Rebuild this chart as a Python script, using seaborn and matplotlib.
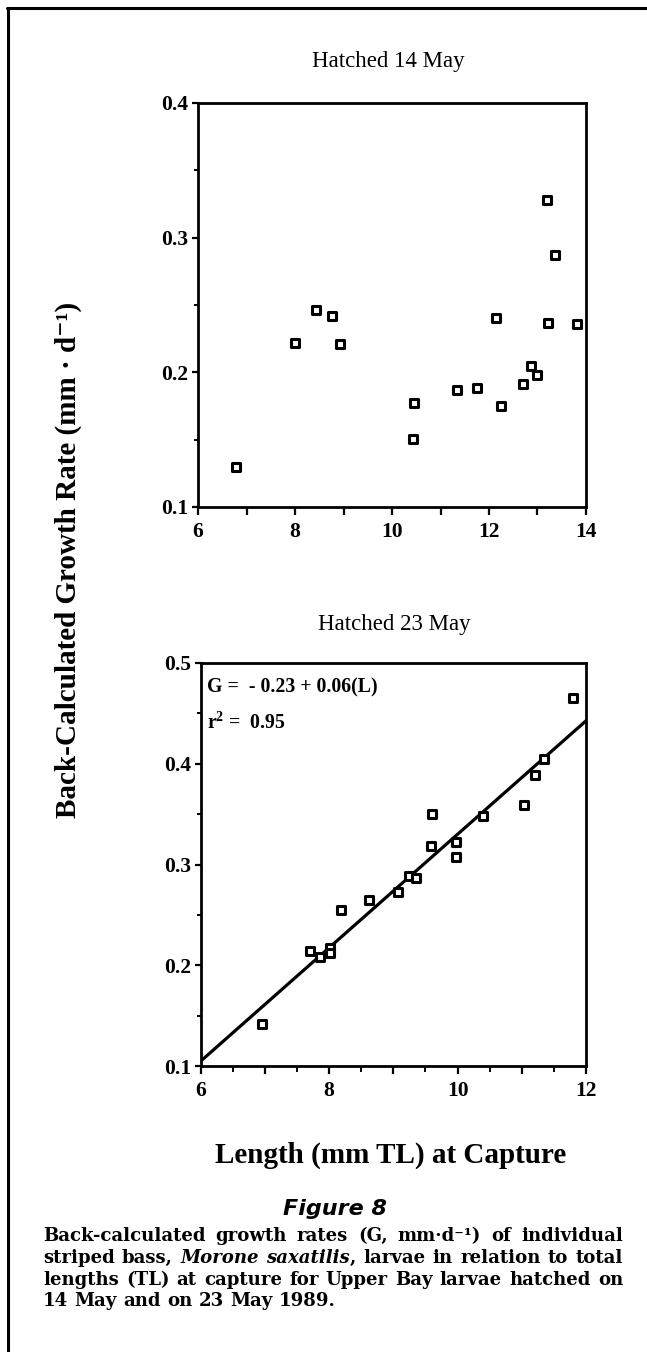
import numpy as np
import pandas as pd
import matplotlib
matplotlib.use("Agg")
import matplotlib.pyplot as plt
import seaborn as sns
from matplotlib.lines import Line2D
from matplotlib.ticker import MultipleLocator, FuncFormatter

# ---------------- data ----------------
may14_length = [6.78, 8.01, 8.44, 8.77, 8.92, 10.45, 10.44, 11.34, 11.75, 12.15,
                12.25, 12.70, 12.87, 13.00, 13.21, 13.37, 13.82, 13.19]
may14_growth = [0.130, 0.222, 0.246, 0.242, 0.221, 0.1775, 0.1505, 0.187, 0.188, 0.240,
                0.175, 0.191, 0.205, 0.198, 0.237, 0.287, 0.236, 0.328]

may23_length = [6.95, 7.70, 7.85, 8.01, 8.01, 8.18, 8.62, 9.08, 9.24, 9.36,
                9.59, 9.60, 9.98, 9.98, 10.40, 11.03, 11.21, 11.35, 11.80]
may23_growth = [0.142, 0.214, 0.208, 0.2175, 0.212, 0.255, 0.265, 0.273, 0.289, 0.287,
                0.318, 0.350, 0.322, 0.307, 0.348, 0.359, 0.3885, 0.405, 0.465]

fit_intercept = -0.233
fit_slope = 0.0563
fit_range = [6, 12]

title_top = "Hatched 14 May"
title_bottom = "Hatched 23 May"
eq_text = "G =  - 0.23 + 0.06(L)"
r2_text = r"r$^{\mathbf{2}}$ =  0.95"
ylabel = "Back-Calculated Growth Rate (mm · d⁻¹)"
xlabel = "Length (mm TL) at Capture"
fig_title = "Figure 8"
caption_lines = [
    [("Back-calculated growth rates (G, mm·d⁻¹) of individual", "normal")],
    [("striped bass,", "normal"), ("Morone saxatilis", "italic"),
     (", larvae in relation to total", "normal")],
    [("lengths (TL) at capture for Upper Bay larvae hatched on", "normal")],
    [("14 May and on 23 May 1989.", "normal")],
]

# ---------------- style ----------------
sns.set_theme(style="ticks")
plt.rcParams["font.family"] = ["Liberation Serif", "DejaVu Serif"]
plt.rcParams["mathtext.fontset"] = "custom"
plt.rcParams["mathtext.rm"] = "Liberation Serif"
plt.rcParams["mathtext.bf"] = "Liberation Serif:bold"
plt.rcParams["mathtext.it"] = "Liberation Serif:italic"
for k in ["text.color", "axes.labelcolor", "xtick.color", "ytick.color", "axes.edgecolor"]:
    plt.rcParams[k] = "black"
plt.rcParams["axes.linewidth"] = 2.0

W, H = 647, 1352
fig = plt.figure(figsize=(W / 100, H / 100), dpi=100)
fig.patch.set_facecolor("white")

def fx(px):
    return px / W

def fy(py):
    return 1 - py / H

ax1 = fig.add_axes([fx(198), fy(507), fx(586) - fx(198), fy(103) - fy(507)])
ax2 = fig.add_axes([fx(200.7), fy(1066), fx(586) - fx(200.7), fy(663) - fy(1066)])

df14 = pd.DataFrame({"L": may14_length, "G": may14_growth})
df23 = pd.DataFrame({"L": may23_length, "G": may23_growth})

mk = dict(marker="s", s=30, facecolor="white", edgecolor="black", linewidth=2.2, zorder=3)
sns.scatterplot(data=df14, x="L", y="G", ax=ax1, legend=False, **mk)
sns.scatterplot(data=df23, x="L", y="G", ax=ax2, legend=False, **mk)

fit_x = np.array(fit_range, dtype=float)
fit_df = pd.DataFrame({"L": fit_x, "G": fit_intercept + fit_slope * fit_x})
sns.lineplot(data=fit_df, x="L", y="G", ax=ax2, color="black", linewidth=2.3, zorder=2)

even_fmt = FuncFormatter(lambda v, p: f"{int(round(v))}" if int(round(v)) % 2 == 0 else "")
yfmt = FuncFormatter(lambda v, p: f"{v:.1f}")

for ax, xlim, ylim, xminor in [(ax1, (6, 14), (0.1, 0.4), None), (ax2, (6, 12), (0.1, 0.5), 0.5)]:
    ax.set_xlim(*xlim)
    ax.set_ylim(*ylim)
    ax.xaxis.set_major_locator(MultipleLocator(1))
    ax.xaxis.set_major_formatter(even_fmt)
    if xminor:
        ax.xaxis.set_minor_locator(MultipleLocator(xminor))
    ax.yaxis.set_major_locator(MultipleLocator(0.1))
    ax.yaxis.set_minor_locator(MultipleLocator(0.05))
    ax.yaxis.set_major_formatter(yfmt)
    for s in ax.spines.values():
        s.set_visible(True)
        s.set_linewidth(2.0)
        s.set_color("black")
    ax.tick_params(axis="x", which="major", direction="out", length=6, width=1.6,
                   pad=5, labelsize=15.5, top=False, colors="black")
    ax.tick_params(axis="x", which="minor", direction="out", length=4, width=1.4, top=False)
    ax.tick_params(axis="y", which="major", direction="out", length=4, width=1.6,
                   pad=3, labelsize=15.5, right=False, colors="black")
    ax.tick_params(axis="y", which="minor", direction="out", length=3, width=1.4, right=False)
    for lab in ax.get_xticklabels() + ax.get_yticklabels():
        lab.set_fontweight("bold")
    ax.set_xlabel("")
    ax.set_ylabel("")
    ax.set_facecolor("white")
    ax.grid(False)

ax2.text(0.016, 0.94, eq_text, transform=ax2.transAxes, ha="left", va="center",
         fontsize=14.3, fontweight="bold")
ax2.text(0.016, 0.851, r2_text, transform=ax2.transAxes, ha="left", va="center",
         fontsize=14.3, fontweight="bold")

fig.text(fx(388), fy(62), title_top, ha="center", va="center", fontsize=16.5)
fig.text(fx(394), fy(625), title_bottom, ha="center", va="center", fontsize=16.5)

fig.text(fx(68), fy(560), ylabel, rotation=90, ha="center", va="center",
         fontsize=21, fontweight="bold")
fig.text(fx(391), fy(1155), xlabel, ha="center", va="center", fontsize=21, fontweight="bold")

fig.text(fx(335), fy(1209), fig_title, ha="center", va="center", fontsize=16,
         fontweight="bold", fontstyle="italic", family=["DejaVu Sans"])

# frame lines
fig.add_artist(Line2D([fx(7), 1.0], [fy(8), fy(8)], color="black", linewidth=2.2))
fig.add_artist(Line2D([fx(8), fx(8)], [0.0, fy(8)], color="black", linewidth=2.2))

# caption (justified, word by word)
fig.canvas.draw()
renderer = fig.canvas.get_renderer()
cap_left, cap_right = 43, 623
line_y = [1236, 1258, 1280, 1301]
cap_kw = dict(ha="left", va="center", fontsize=13.1, fontweight="bold", family=["DejaVu Serif"])

space_t = fig.text(0, 0, "a a", **cap_kw)
a_t = fig.text(0, 0, "aa", **cap_kw)
space_w = space_t.get_window_extent(renderer).width - a_t.get_window_extent(renderer).width
space_t.remove()
a_t.remove()

for li, (parts, py) in enumerate(zip(caption_lines, line_y)):
    words = []
    for txt, style in parts:
        toks = txt.split(" ")
        for j, w in enumerate(toks):
            if w == "":
                continue
            attach = (w[0] in ",." and j == 0 and len(words) > 0)
            words.append((w, style, attach))
    objs = []
    for w, style, attach in words:
        t = fig.text(0, fy(py), w, fontstyle=style, **cap_kw)
        objs.append((t, t.get_window_extent(renderer).width, attach))
    n_gaps = sum(1 for k, o in enumerate(objs) if k > 0 and not o[2])
    total = sum(o[1] for o in objs)
    last = li == len(caption_lines) - 1
    gap = space_w if (last or n_gaps == 0) else (cap_right - cap_left - total) / n_gaps
    x = cap_left
    for k, (t, w, attach) in enumerate(objs):
        if k > 0 and not attach:
            x += gap
        t.set_x(fx(x))
        x += w

fig.savefig("out.png", dpi=100, facecolor="white")
